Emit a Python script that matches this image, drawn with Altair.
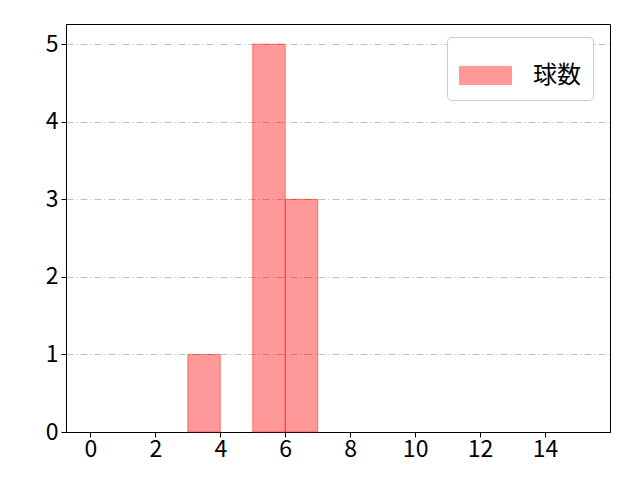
import pandas as pd
import altair as alt

bin_start = [3, 5, 6]
bin_end = [4, 6, 7]
counts = [1, 5, 3]
x_ticks = [0, 2, 4, 6, 8, 10, 12, 14]
y_ticks = [0, 1, 2, 3, 4, 5]

data = pd.DataFrame({
    'start': bin_start,
    'end': bin_end,
    'count': counts,
    'base': [0] * len(counts),
    'label': ['球数'] * len(counts)
})

FONT = 'Noto Sans CJK JP'

bars = alt.Chart(data).mark_bar(
    fillOpacity=0.4,
    stroke='#ff0000',
    strokeWidth=1,
    strokeOpacity=0.45
).encode(
    x=alt.X('start:Q',
            scale=alt.Scale(domain=[-0.75, 16], nice=False, zero=False),
            axis=alt.Axis(values=x_ticks, grid=False, title=None, format='d',
                          labelFont=FONT, labelFontSize=23, labelPadding=1)),
    x2='end:Q',
    y=alt.Y('count:Q',
            scale=alt.Scale(domain=[0, 5.26], nice=False),
            axis=alt.Axis(values=y_ticks, grid=True, title=None, format='d',
                          labelFont=FONT, labelFontSize=23, labelPadding=3,
                          gridColor='#b0b0b0', gridDash=[7, 3, 1, 3], gridWidth=0.8)),
    y2='base:Q',
    color=alt.Color('label:N',
                    scale=alt.Scale(range=['#ff0000']),
                    legend=alt.Legend(
                        title=None, orient='none', legendX=381, legendY=13,
                        fillColor='white', strokeColor='#cccccc', cornerRadius=4,
                        padding=12, labelFontSize=24, labelFont=FONT,
                        labelOffset=21, labelColor='black',
                        symbolType='M-1,-0.35L1,-0.35L1,0.35L-1,0.35Z',
                        symbolSize=2704, symbolOpacity=0.4,
                        symbolStrokeColor='#ff0000', symbolStrokeWidth=1,
                        symbolFillColor='#ff0000'))
)

chart = bars.properties(
    width=544,
    height=408,
    autosize='none',
    padding={'left': 58, 'top': 16, 'right': 22, 'bottom': 40}
).configure_view(
    stroke='black', strokeWidth=1
).configure_axis(
    labelColor='black',
    domainColor='black', tickColor='black', tickSize=5
)

chart.save("out.html", embed_options={"renderer": "svg", "actions": False})
